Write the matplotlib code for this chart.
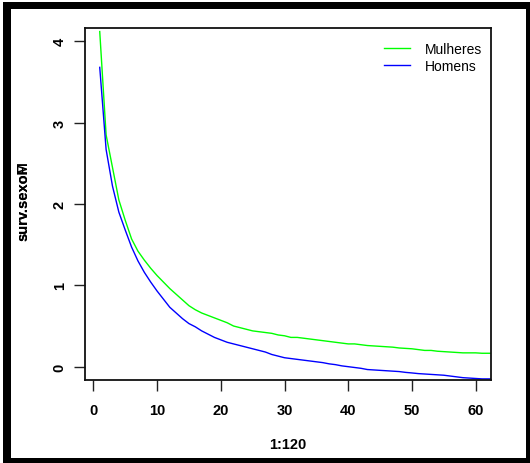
import numpy as np
import matplotlib
matplotlib.use("Agg")
import matplotlib.pyplot as plt
from matplotlib.patches import Rectangle

# cumulative hazard by sex, months 1..63 (rest of 1:120 falls outside the view)
mulheres = [4.12, 2.85, 2.45, 2.05, 1.80, 1.57, 1.42, 1.31, 1.21, 1.12,
            1.04, 0.96, 0.89, 0.82, 0.75, 0.70, 0.66, 0.63, 0.60, 0.57,
            0.54, 0.50, 0.48, 0.46, 0.44, 0.43, 0.42, 0.41, 0.39, 0.38,
            0.36, 0.36, 0.35, 0.34, 0.33, 0.32, 0.31, 0.30, 0.29, 0.28,
            0.28, 0.27, 0.26, 0.255, 0.25, 0.245, 0.24, 0.23, 0.225, 0.22,
            0.21, 0.20, 0.20, 0.19, 0.185, 0.18, 0.175, 0.17, 0.17, 0.17,
            0.165, 0.165, 0.165]
homens = [3.68, 2.67, 2.22, 1.90, 1.68, 1.47, 1.30, 1.16, 1.04, 0.93,
          0.83, 0.73, 0.66, 0.59, 0.53, 0.49, 0.44, 0.40, 0.36, 0.33,
          0.30, 0.28, 0.26, 0.24, 0.22, 0.20, 0.18, 0.15, 0.13, 0.11,
          0.10, 0.09, 0.08, 0.07, 0.06, 0.05, 0.035, 0.025, 0.01, 0.0,
          -0.01, -0.02, -0.035, -0.04, -0.045, -0.05, -0.055, -0.06, -0.07, -0.077,
          -0.085, -0.09, -0.095, -0.10, -0.105, -0.115, -0.125, -0.135, -0.14, -0.145,
          -0.15, -0.15, -0.15]
meses = np.arange(1, len(mulheres) + 1)
xticks = [0, 10, 20, 30, 40, 50, 60]
yticks = [0, 1, 2, 3, 4]

W, H = 530, 464
fig = plt.figure(figsize=(W / 100, H / 100), dpi=100)
fig.patch.set_facecolor("white")

ax = fig.add_axes([84.7 / W, 1 - 380.7 / H, 406 / W, 351.4 / H])
ax.plot(meses, mulheres, color="#00ff00", lw=1.0, label="Mulheres")
ax.plot(meses, homens, color="#0000ff", lw=1.0, label="Homens")

# R-style axis ranges (4% padding)
ax.set_xlim(1 - 0.04 * 59, 60 + 0.04 * 59)
ax.set_ylim(-0.16, 4.16)

bold = dict(family="Liberation Sans", weight="bold")
ax.set_xticks(xticks)
ax.set_yticks(yticks)
ax.set_xticklabels([str(t) for t in xticks], fontsize=10.5, **bold)
ax.set_yticklabels([str(t) for t in yticks], fontsize=10.5, rotation=90,
                   va="center", **bold)
ax.tick_params(axis="both", direction="out", length=8, width=1.0, color="#222222")
ax.tick_params(axis="x", pad=9)
ax.tick_params(axis="y", pad=5)
for s in ax.spines.values():
    s.set_linewidth(1.3)
    s.set_color("#111111")

ax.set_xlabel("1:120", fontsize=10.5, labelpad=14, **bold)
# both y labels written from the same starting point, one over the other
for lab in ["surv.sexoF", "surv.sexoM"]:
    fig.text(23 / W, 1 - 241 / H, lab, rotation=90, ha="left",
             va="center", rotation_mode="anchor", fontsize=10.5, **bold)

ax.legend(loc="upper left", bbox_to_anchor=(384 / W, 1 - 43 / H),
          bbox_transform=fig.transFigure, frameon=False, borderpad=0,
          borderaxespad=0, handlelength=1.9, handletextpad=1.05,
          labelspacing=0.2, prop=dict(family="Liberation Sans", size=10))

# heavy outer frame round the device
black = "#000000"
fig.add_artist(Rectangle((3 / W, 1 - 10 / H), 527 / W, 7 / H,
                         transform=fig.transFigure, color=black, lw=0))
fig.add_artist(Rectangle((3 / W, 0), 8 / W, 1 - 3 / H,
                         transform=fig.transFigure, color=black, lw=0))
fig.add_artist(Rectangle((526 / W, 0), 4 / W, 1 - 3 / H,
                         transform=fig.transFigure, color=black, lw=0))
fig.add_artist(Rectangle((3 / W, 0), 527 / W, 5 / H,
                         transform=fig.transFigure, color=black, lw=0))

fig.savefig("out.png", dpi=100)
